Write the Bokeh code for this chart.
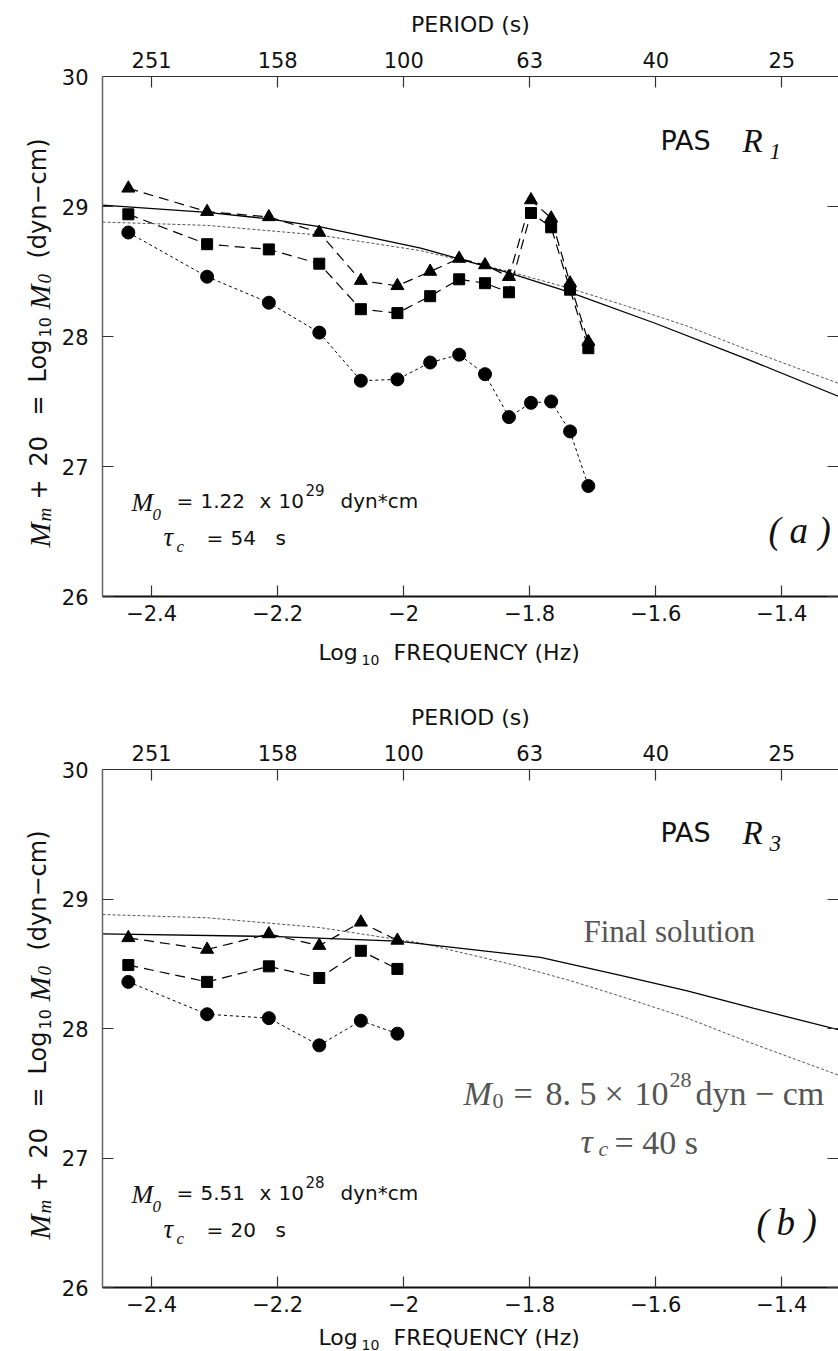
import math
from bokeh.plotting import figure
from bokeh.models import LinearAxis, FixedTicker, Label, Range1d
from bokeh.layouts import column, row
from bokeh.embed import file_html
from bokeh.resources import INLINE

# ---------------- data ----------------
logf_a = [-2.437, -2.312, -2.214, -2.134, -2.068, -2.010, -1.958, -1.912,
          -1.871, -1.833, -1.798, -1.766, -1.736, -1.707]
tri_a = [29.14, 28.96, 28.92, 28.80, 28.43, 28.39, 28.50, 28.60, 28.55, 28.46,
         29.05, 28.91, 28.41, 27.96]
sq_a = [28.94, 28.71, 28.67, 28.56, 28.21, 28.18, 28.31, 28.44, 28.41, 28.34,
        28.95, 28.84, 28.36, 27.91]
circ_a = [28.80, 28.46, 28.26, 28.03, 27.66, 27.67, 27.80, 27.86, 27.71, 27.38,
          27.49, 27.50, 27.27, 26.85]

logf_b = [-2.437, -2.312, -2.214, -2.134, -2.068, -2.010]
tri_b = [28.70, 28.61, 28.73, 28.64, 28.82, 28.68]
sq_b = [28.49, 28.36, 28.48, 28.39, 28.60, 28.46]
circ_b = [28.36, 28.11, 28.08, 27.87, 28.06, 27.96]

# source-spectrum curves
fit_a_x = [-2.478, -2.312, -2.214, -2.134, -1.973, -1.833, -1.736, -1.60, -1.457, -1.31]
fit_a_y = [29.01, 28.955, 28.905, 28.845, 28.68, 28.49, 28.34, 28.10, 27.83, 27.54]
fit_b_x = [-2.478, -2.2, -2.01, -1.783, -1.656, -1.55, -1.444, -1.31]
fit_b_y = [28.73, 28.71, 28.675, 28.55, 28.41, 28.29, 28.155, 27.99]
final_x = [-2.478, -2.312, -2.134, -1.973, -1.833, -1.736, -1.65, -1.55, -1.45, -1.31]
final_y = [28.88, 28.855, 28.78, 28.66, 28.50, 28.37, 28.24, 28.08, 27.89, 27.64]

freq_ticks = [-2.4, -2.2, -2.0, -1.8, -1.6, -1.4]
freq_labels = ["\u22122.4", "\u22122.2", "\u22122", "\u22121.8", "\u22121.6", "\u22121.4"]
period_labels = ["251", "158", "100", "63", "40", "25"]
y_ticks = [26, 27, 28, 29, 30]
y_labels = ["26", "27", "28", "29", "30"]

X0, X1 = -2.478, -1.310
Y0, Y1 = 26, 30
STRIP_W = 58
FRAME_LEFT = 102
PX_PER_X = 736 / (X1 - X0)

SANS = "DejaVu Sans"
SERIF = "Liberation Serif"
INK = "#111111"
GRAY = "#555555"


def style_axis(ax, size="21px"):
    ax.major_tick_in = 11
    ax.major_tick_out = 0
    ax.minor_tick_line_color = None
    ax.major_tick_line_color = "#333333"
    ax.major_tick_line_width = 1.2
    ax.axis_line_color = "#333333"
    ax.axis_line_width = 1.5
    ax.major_label_text_font = SANS
    ax.major_label_text_font_size = size
    ax.major_label_text_color = INK


def bare(f):
    f.outline_line_color = None
    f.grid.visible = False
    f.background_fill_color = "white"
    f.border_fill_color = "white"
    return f


def put(f, text, x, y, size, font=SANS, style="normal", angle=0.0, color=INK,
        align="left", baseline="alphabetic"):
    f.add_layout(Label(x=x, y=y, text=text, text_font=font, text_font_size=size,
                       text_font_style=style, angle=angle, text_color=color,
                       text_align=align, text_baseline=baseline))


def main_fig(height, top_border, bottom_border, frame_top_page, frame_h):
    p = figure(width=838 - STRIP_W, height=height, x_range=Range1d(X0, X1),
               y_range=Range1d(Y0, Y1), output_backend="svg", toolbar_location=None,
               x_axis_location=None, y_axis_location=None,
               min_border_left=FRAME_LEFT - STRIP_W, min_border_right=0,
               min_border_top=top_border, min_border_bottom=bottom_border)
    bare(p)

    bottom = LinearAxis(ticker=FixedTicker(ticks=freq_ticks),
                        major_label_overrides=dict(zip(freq_ticks, freq_labels)))
    style_axis(bottom)
    bottom.major_label_standoff = 8
    bottom.axis_line_width = 2
    bottom.axis_line_color = INK
    p.add_layout(bottom, "below")

    top = LinearAxis(ticker=FixedTicker(ticks=freq_ticks),
                     major_label_overrides=dict(zip(freq_ticks, period_labels)),
                     axis_label="PERIOD (s)")
    style_axis(top)
    top.major_label_standoff = 9
    top.axis_line_width = 1.2
    top.axis_label_text_font = SANS
    top.axis_label_text_font_style = "normal"
    top.axis_label_text_font_size = "22px"
    top.axis_label_text_color = INK
    top.axis_label_standoff = 12
    p.add_layout(top, "above")

    left = LinearAxis(ticker=FixedTicker(ticks=y_ticks),
                      major_label_overrides=dict(zip(y_ticks, y_labels)))
    style_axis(left)
    left.major_label_standoff = 14
    left.axis_line_color = "#666666"
    p.add_layout(left, "left")

    right = LinearAxis(ticker=FixedTicker(ticks=y_ticks),
                       major_label_overrides={t: "" for t in y_ticks})
    style_axis(right)
    right.axis_line_color = None
    right.major_label_standoff = 0
    right.major_label_text_color = None
    p.add_layout(right, "right")

    def to_y(py):
        return Y1 - (py - frame_top_page) / frame_h * (Y1 - Y0)

    def lab(text, px, py, size, font=SANS, style="normal", color=INK, align="left"):
        x = X0 + (px - FRAME_LEFT) / PX_PER_X
        put(p, text, x, to_y(py), size, font, style, 0.0, color, align)

    return p, lab, to_y


def ylabel_strip(p, height, to_y, dy):
    # narrow strip left of the panel; its frame is aligned with the panel frame,
    # so it shares the panel's y range
    s = bare(figure(width=STRIP_W, height=height, x_range=Range1d(0, STRIP_W),
                    y_range=p.y_range, output_backend="svg", toolbar_location=None,
                    x_axis_location=None, y_axis_location=None,
                    min_border_left=0, min_border_right=0,
                    min_border_top=0, min_border_bottom=0))
    a = math.pi / 2
    bx, sx = 37, 44

    def r(text, x, py, size, font, style):
        put(s, text, x, to_y(py + dy), size, font, style, a)

    r("M", bx + 2, 547, "30px", SERIF, "italic")
    r("m", sx, 521, "19px", SERIF, "italic")
    r("+", bx, 499, "24px", SANS, "normal")
    r("20", bx, 466, "24px", SANS, "normal")
    r("=", bx, 415, "24px", SANS, "normal")
    r("Log", bx, 382, "24px", SANS, "normal")
    r("10", sx, 337, "16px", SANS, "normal")
    r("M", bx + 2, 309, "30px", SERIF, "italic")
    r("0", sx, 283, "19px", SERIF, "italic")
    r("(dyn\u2212cm)", bx, 258, "24px", SANS, "normal")
    return s


def xlabel_strip(h, base):
    s = bare(figure(width=838, height=h, x_range=Range1d(0, 838), y_range=Range1d(h, 0),
                    output_backend="svg", toolbar_location=None,
                    x_axis_location=None, y_axis_location=None,
                    min_border_left=0, min_border_right=0,
                    min_border_top=0, min_border_bottom=0))
    put(s, "Log", 318, base, "22px")
    put(s, "10", 361, base + 7, "14px")
    put(s, "FREQUENCY (Hz)", 393, base, "22px")
    return s


def draw_series(p, xs, tri, sq, circ):
    p.line(xs, tri, line_color="black", line_width=1.2, line_dash="10 6")
    p.line(xs, sq, line_color="black", line_width=1.2, line_dash="10 6")
    p.line(xs, circ, line_color="black", line_width=1.0, line_dash="3 3")
    p.scatter(xs, tri, marker="triangle", size=13, color="black")
    p.scatter(xs, sq, marker="square", size=11, color="black")
    p.scatter(xs, circ, marker="circle", size=13, color="black")


def moment_note(lab, dy, mant, expo, tau):
    lab("M", 131, 502 + dy, "26px", SERIF, "italic")
    lab("0", 152, 514 + dy, "17px", SERIF, "italic")
    lab("=", 176, 500 + dy, "20px")
    lab(mant, 200, 500 + dy, "20px")
    lab("x", 259, 500 + dy, "20px")
    lab("10", 278, 500 + dy, "20px")
    lab(expo, 305, 489 + dy, "15px")
    lab("dyn*cm", 340, 500 + dy, "20px")
    lab("\u03c4", 163, 536 + dy, "27px", SERIF, "italic")
    lab("c", 176, 546 + dy, "17px", SERIF, "italic")
    lab("=", 206, 537 + dy, "20px")
    lab(tau, 230, 537 + dy, "20px")
    lab("s", 275, 537 + dy, "20px")


def panel_tag(lab, letter, x_open, x_letter, x_close, base):
    lab("(", x_open, base, "37px", SERIF, "italic")
    lab(letter, x_letter, base, "37px", SERIF, "italic")
    lab(")", x_close, base, "37px", SERIF, "italic")


# ---------------- upper panel (a) ----------------
p1, lab1, ty1 = main_fig(630, 76, 34, 76, 520)
p1.line(final_x, final_y, line_color=GRAY, line_width=1.0, line_dash="3 2")
p1.line(fit_a_x, fit_a_y, line_color="black", line_width=1.3)
draw_series(p1, logf_a, tri_a, sq_a, circ_a)
lab1("PAS", 660, 140, "27px")
lab1("R", 742, 140, "33px", SERIF, "italic")
lab1("1", 769, 151, "23px", SERIF, "italic")
moment_note(lab1, 0, "1.22", "29", "54")
panel_tag(lab1, "a", 768, 789, 818, 530)

# ---------------- lower panel (b) ----------------
p2, lab2, ty2 = main_fig(641, 89, 34, 769, 518)
p2.line(final_x, final_y, line_color=GRAY, line_width=1.0, line_dash="3 2")
p2.line(fit_b_x, fit_b_y, line_color="black", line_width=1.3)
draw_series(p2, logf_b, tri_b, sq_b, circ_b)
lab2("PAS", 660, 832, "27px")
lab2("R", 742, 832, "33px", SERIF, "italic")
lab2("3", 769, 843, "23px", SERIF, "italic")
moment_note(lab2, 692, "5.51", "28", "20")
panel_tag(lab2, "b", 756, 776, 804, 1222)

lab2("Final solution", 583, 931, "31px", SERIF, color=GRAY)
lab2("M", 463, 1093, "34px", SERIF, "italic", color=GRAY)
lab2("0", 492, 1100, "22px", SERIF, color=GRAY)
lab2("=", 513, 1093, "34px", SERIF, color=GRAY)
lab2("8. 5", 545, 1093, "34px", SERIF, color=GRAY)
lab2("\u00d7", 604, 1093, "34px", SERIF, color=GRAY)
lab2("10", 634, 1093, "34px", SERIF, color=GRAY)
lab2("28", 669, 1079, "22px", SERIF, color=GRAY)
lab2("dyn \u2212 cm", 695, 1093, "34px", SERIF, color=GRAY)
lab2("\u03c4", 580, 1141, "34px", SERIF, "italic", color=GRAY)
lab2("c", 598, 1148, "22px", SERIF, "italic", color=GRAY)
lab2("= 40 s", 614, 1142, "34px", SERIF, color=GRAY)

layout = column(
    row(ylabel_strip(p1, 630, ty1, 0), p1),
    xlabel_strip(50, 22),
    row(ylabel_strip(p2, 641, ty2, 692), p2),
    xlabel_strip(30, 16),
)
open("out.html", "w").write(file_html(layout, INLINE))
